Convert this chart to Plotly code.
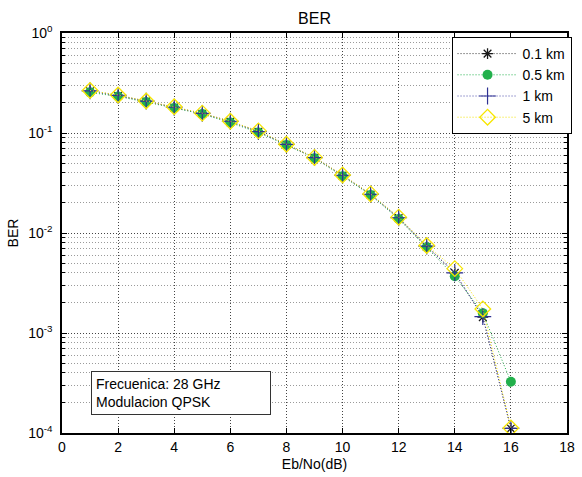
import plotly.graph_objects as go

ebno = [1, 2, 3, 4, 5, 6, 7, 8, 9, 10, 11, 12, 13, 14, 15, 16]
ber_01km = [0.262, 0.236, 0.207, 0.180, 0.156, 0.130, 0.103, 0.0765, 0.0565, 0.0375, 0.0242, 0.0141, 0.0073, 0.0040, 0.00144, 0.000111]
ber_05km = [0.255, 0.232, 0.204, 0.178, 0.155, 0.127, 0.101, 0.0760, 0.0560, 0.0370, 0.0240, 0.0138, 0.0072, 0.0037, 0.00158, 0.000325]
ber_1km = [0.264, 0.238, 0.208, 0.181, 0.157, 0.131, 0.103, 0.0769, 0.0568, 0.0378, 0.0244, 0.0142, 0.0074, 0.0040, 0.00146, 0.000111]
ber_5km = [0.266, 0.240, 0.209, 0.183, 0.158, 0.131, 0.105, 0.0772, 0.0570, 0.0380, 0.0246, 0.0144, 0.0075, 0.0044, 0.00174, 0.000112]

series_names = ["0.1 km", "0.5 km", "1 km", "5 km"]
x_ticks = [0, 2, 4, 6, 8, 10, 12, 14, 16, 18]
y_ticks = [1e-4, 1e-3, 1e-2, 1e-1, 1]
y_ticktext = ["10<sup>-4</sup>", "10<sup>-3</sup>", "10<sup>-2</sup>", "10<sup>-1</sup>", "10<sup>0</sup>"]

FONT = "Liberation Sans, Arial, sans-serif"

styles = [
    dict(color="#1a1a1a", symbol="asterisk-open", size=9, lw=1.3, lcolor="#333333"),
    dict(color="#22b04b", symbol="circle", size=10, lw=0, lcolor="#22b04b"),
    dict(color="#2e3192", symbol="cross-thin-open", size=12, lw=1.2, lcolor="#4a4aa8"),
    dict(color="#f7e600", symbol="diamond-open", size=12, lw=1.3, lcolor="#f2e200"),
]
all_data = [ber_01km, ber_05km, ber_1km, ber_5km]

fig = go.Figure()
for name, ys, st in zip(series_names, all_data, styles):
    fig.add_trace(go.Scatter(
        x=ebno, y=ys, name=name, mode="lines+markers",
        line=dict(color=st["lcolor"], width=1, dash="1px,2px"),
        marker=dict(symbol=st["symbol"], size=st["size"], color=st["color"],
                    line=dict(color=st["color"], width=st["lw"])),
    ))

minor_vals = [m * 10 ** e for e in range(-4, 0) for m in range(2, 10)]

fig.update_layout(
    width=582, height=477,
    margin=dict(l=62, r=7, t=33, b=43),
    paper_bgcolor="white", plot_bgcolor="white",
    font=dict(family=FONT, size=13, color="black"),
    title=dict(text="BER", x=0.5, xref="paper", xanchor="center", y=0.962, yanchor="middle",
               font=dict(family=FONT, size=16, color="black")),
    showlegend=True,
    legend=dict(x=1.009, y=0.99, xanchor="right", yanchor="top",
                bgcolor="white", bordercolor="black", borderwidth=1,
                font=dict(family=FONT, size=14, color="black"),
                itemwidth=60, tracegroupgap=1),
    xaxis=dict(
        range=[0, 18], tickvals=x_ticks, ticktext=[str(v) for v in x_ticks],
        showgrid=True, gridcolor="#444444", griddash="1px,2px", gridwidth=1,
        zeroline=False, showline=True, linecolor="black", linewidth=1.5,
        mirror="allticks", ticks="inside", ticklen=5, tickcolor="black",
        title=dict(text="Eb/No(dB)", font=dict(family=FONT, size=14), standoff=6),
        tickfont=dict(family=FONT, size=14),
    ),
    yaxis=dict(
        type="log", range=[-4, 0], tickvals=y_ticks, ticktext=y_ticktext,
        showgrid=True, gridcolor="#444444", griddash="1px,2px", gridwidth=1,
        zeroline=False, showline=True, linecolor="black", linewidth=1.5,
        mirror="allticks", ticks="inside", ticklen=5, tickcolor="black",
        ticklabelstandoff=5,
        title=dict(text="BER", font=dict(family=FONT, size=14), standoff=6),
        tickfont=dict(family=FONT, size=14),
        minor=dict(tickvals=minor_vals, showgrid=True, gridcolor="#9a9a9a",
                   griddash="1px,2px", gridwidth=1, ticks="inside", ticklen=3,
                   tickcolor="black"),
    ),
    annotations=[dict(
        text="Frecuenica: 28 GHz<br>Modulacion QPSK",
        xref="paper", yref="paper", x=0.058, y=0.155, xanchor="left", yanchor="top",
        showarrow=False, align="left",
        font=dict(family=FONT, size=14, color="black"),
        bgcolor="white", bordercolor="#333333", borderwidth=1, borderpad=4,
        width=170,
    )],
)

fig.write_html("out.html")
